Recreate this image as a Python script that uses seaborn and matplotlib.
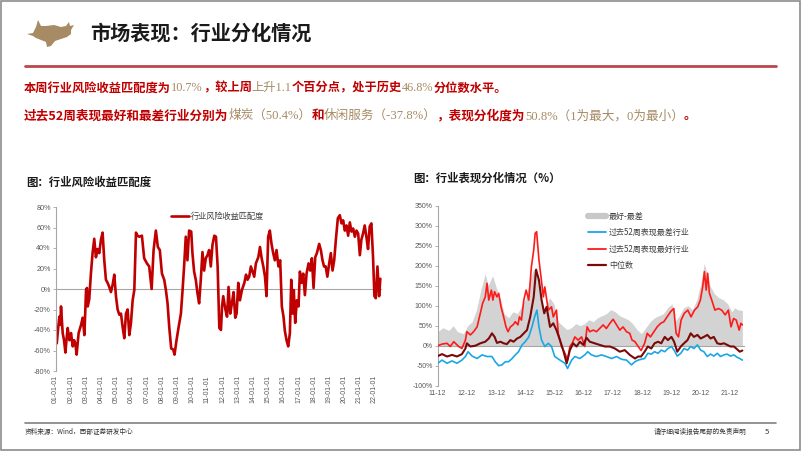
import numpy as np
import pandas as pd
import matplotlib
matplotlib.use("Agg")
import matplotlib.pyplot as plt
import seaborn as sns
from matplotlib.lines import Line2D
from matplotlib.patches import Polygon, Rectangle

# =========================================================
# DATA
# =========================================================
# left chart: industry risk/return match (%), x = decimal year
match_years = [
    2001.00, 2001.07, 2001.15, 2001.24, 2001.31, 2001.35, 2001.46, 2001.55, 2001.64, 2001.72,
    2001.79, 2001.90, 2002.01, 2002.12, 2002.21, 2002.29, 2002.38, 2002.51, 2002.67, 2002.78,
    2002.89, 2003.00, 2003.06, 2003.11, 2003.21, 2003.32, 2003.43, 2003.54, 2003.65, 2003.76,
    2003.87, 2003.98, 2004.09, 2004.20, 2004.31, 2004.42, 2004.53, 2004.64, 2004.75, 2004.86,
    2004.97, 2005.08, 2005.19, 2005.30, 2005.41, 2005.52, 2005.63, 2005.74, 2005.85, 2005.96,
    2006.07, 2006.18, 2006.29, 2006.39, 2006.50, 2006.68, 2006.83, 2007.01, 2007.16, 2007.32,
    2007.45, 2007.60, 2007.73, 2007.86, 2008.00, 2008.15, 2008.26, 2008.37, 2008.48, 2008.61,
    2008.74, 2008.83, 2008.96, 2009.09, 2009.25, 2009.36, 2009.46, 2009.57, 2009.68, 2009.79,
    2009.93, 2010.01, 2010.12, 2010.23, 2010.34, 2010.45, 2010.56, 2010.67, 2010.78, 2010.89,
    2011.00, 2011.11, 2011.22, 2011.33, 2011.45, 2011.56, 2011.67, 2011.78, 2011.89, 2011.96,
    2012.04, 2012.18, 2012.29, 2012.39, 2012.50, 2012.61, 2012.72, 2012.83, 2012.92, 2013.03,
    2013.14, 2013.27, 2013.43, 2013.54, 2013.64, 2013.75, 2013.86, 2013.97, 2014.08, 2014.19,
    2014.35, 2014.46, 2014.57, 2014.68, 2014.79, 2014.89, 2015.00, 2015.11, 2015.22, 2015.33,
    2015.44, 2015.55, 2015.68, 2015.79, 2015.90, 2016.01, 2016.10, 2016.21, 2016.32, 2016.43,
    2016.52, 2016.61, 2016.69, 2016.78, 2016.89, 2017.00, 2017.09, 2017.20, 2017.31, 2017.42,
    2017.53, 2017.66, 2017.77, 2017.88, 2017.99, 2018.10, 2018.21, 2018.36, 2018.47, 2018.58,
    2018.68, 2018.79, 2018.90, 2019.02, 2019.13, 2019.24, 2019.35, 2019.46, 2019.59, 2019.72,
    2019.83, 2019.94, 2020.05, 2020.16, 2020.27, 2020.38, 2020.49, 2020.60, 2020.71, 2020.82,
    2020.93, 2021.04, 2021.14, 2021.25, 2021.36, 2021.47, 2021.58, 2021.69, 2021.80, 2021.91,
    2022.00, 2022.09, 2022.20, 2022.31, 2022.39,
]
match_values = [
    -47, -53, -40, -27, -35, -17, -43, -50, -62, -48,
    -38, -50, -43, -56, -50, -53, -64, -43, -35, -28,
    -45, -1, 1, -17, -10, 15, 35, 49, 31, 39,
    35, 48, 55, 28, 9, 6, 2, -3, 4, 14,
    -7, -20, -25, -24, -37, -48, -24, -20, -45, -33,
    -11, -1, 55, 52, 51, 52, 30, 25, 22, 0,
    38, 57, 41, 38, 15, 9, -1, -14, -37, -58,
    -59, -64, -50, -38, -24, -1, 22, 51, 28, 57,
    56, 35, 17, 9, -4, -14, 9, 36, 18, 30,
    33, 38, 22, 43, 52, 51, 22, -38, -40, -17,
    -7, -20, -27, 2, -24, -14, -3, -28, -24, 6,
    -11, -1, 6, 14, 9, 12, 22, 17, 12, 25,
    31, 41, 30, 22, 12, -7, 51, 57, 44, 35,
    28, 38, 22, 28, -17, -27, -41, -50, -56, -43,
    9, -24, -1, -33, -11, -17, 17, 6, 15, -6,
    15, 25, 18, 30, 1, 31, 35, 44, 38, 28,
    22, 22, 12, 25, 35, 18, 28, 48, 69, 72,
    64, 67, 57, 62, 52, 65, 56, 59, 51, 57,
    54, 33, 48, 54, 62, 51, 39, 61, 64, 31,
    -7, -9, 22, -7, 10,
]
match_year_ticks = list(range(2001, 2023))

# right chart: past-52-week performance (%)
best_years = [
    2011.92, 2012.07, 2012.24, 2012.35, 2012.47, 2012.64, 2012.75, 2012.87, 2012.92, 2013.04,
    2013.15, 2013.27, 2013.38, 2013.46, 2013.55, 2013.61, 2013.67, 2013.76, 2013.81, 2013.87,
    2013.95, 2014.01, 2014.09, 2014.18, 2014.26, 2014.33, 2014.41, 2014.50, 2014.58, 2014.67,
    2014.72, 2014.79, 2014.87, 2014.95, 2015.04, 2015.13, 2015.21, 2015.26, 2015.31, 2015.39,
    2015.46, 2015.54, 2015.59, 2015.71, 2015.82, 2015.88, 2015.99, 2016.05, 2016.16, 2016.28,
    2016.37, 2016.45, 2016.53, 2016.62, 2016.73, 2016.85, 2016.96, 2017.04, 2017.13, 2017.25,
    2017.36, 2017.47, 2017.59, 2017.70, 2017.82, 2017.93, 2018.05, 2018.16, 2018.27, 2018.39,
    2018.50, 2018.58, 2018.68, 2018.79, 2018.89, 2019.01, 2019.10, 2019.21, 2019.33, 2019.44,
    2019.56, 2019.67, 2019.78, 2019.90, 2020.01, 2020.09, 2020.17, 2020.26, 2020.37, 2020.49,
    2020.60, 2020.72, 2020.83, 2020.92, 2021.00, 2021.06, 2021.12, 2021.17, 2021.23, 2021.31,
    2021.42, 2021.54, 2021.65, 2021.77, 2021.88, 2021.97, 2022.06, 2022.15, 2022.25, 2022.31,
    2022.36,
]
best_values = [
    0, 4, 6, -2, 10, -2, -7, 14, 35, 27,
    35, 47, 81, 106, 122, 156, 114, 139, 114, 135,
    122, 131, 97, 72, 47, 35, 47, 52, 60, 52,
    72, 64, 114, 139, 114, 197, 239, 281, 285, 214,
    172, 122, 147, 89, 97, 72, 89, 31, -2, -19,
    -36, -2, 6, 22, 14, 22, -2, 47, 35, 39,
    35, 43, 52, 43, 56, 66, 52, 39, 47, 35,
    31, 14, 10, -2, -12, 6, 31, 22, 35, 47,
    56, 60, 72, 85, 93, 31, 22, 64, 81, 89,
    72, 89, 97, 114, 147, 185, 139, 181, 131, 114,
    89, 93, 89, 77, 89, 47, 68, 64, 39, 56,
    52,
]

worst_years = [
    2011.92, 2012.07, 2012.24, 2012.41, 2012.58, 2012.75, 2012.87, 2012.96, 2013.10, 2013.27,
    2013.44, 2013.61, 2013.78, 2013.89, 2014.01, 2014.12, 2014.24, 2014.35, 2014.47, 2014.58,
    2014.69, 2014.81, 2014.92, 2015.04, 2015.15, 2015.24, 2015.32, 2015.39, 2015.48, 2015.59,
    2015.71, 2015.82, 2015.93, 2016.11, 2016.28, 2016.37, 2016.51, 2016.62, 2016.79, 2016.96,
    2017.06, 2017.19, 2017.36, 2017.53, 2017.70, 2017.88, 2018.05, 2018.22, 2018.39, 2018.56,
    2018.68, 2018.79, 2018.89, 2019.01, 2019.12, 2019.24, 2019.35, 2019.47, 2019.58, 2019.70,
    2019.81, 2019.93, 2020.02, 2020.13, 2020.25, 2020.36, 2020.48, 2020.59, 2020.70, 2020.82,
    2020.93, 2021.04, 2021.16, 2021.27, 2021.38, 2021.50, 2021.61, 2021.73, 2021.84, 2021.95,
    2022.07, 2022.18, 2022.27, 2022.36,
]
worst_values = [
    -44, -36, -44, -38, -44, -36, -27, -15, -26, -32,
    -23, -27, -27, -40, -50, -48, -40, -40, -32, -23,
    -15, 2, 10, 22, 47, 72, 89, 47, 14, -2,
    6, -2, -27, -36, -44, -57, -36, -27, -32, -23,
    -15, -23, -27, -23, -27, -32, -27, -34, -36, -48,
    -40, -36, -34, -32, -19, -21, -15, -19, -11, -15,
    -7, -2, -11, -26, -19, -7, -11, -2, -7, 2,
    -11, -15, -27, -21, -26, -19, -27, -23, -21, -26,
    -23, -29, -32, -36,
]

median_years = [
    2011.92, 2012.07, 2012.24, 2012.41, 2012.58, 2012.75, 2012.87, 2012.92, 2013.04, 2013.21,
    2013.38, 2013.55, 2013.67, 2013.78, 2013.87, 2013.95, 2014.07, 2014.18, 2014.29, 2014.41,
    2014.52, 2014.64, 2014.75, 2014.87, 2014.98, 2015.09, 2015.21, 2015.29, 2015.39, 2015.48,
    2015.57, 2015.65, 2015.77, 2015.88, 2015.99, 2016.11, 2016.22, 2016.34, 2016.45, 2016.56,
    2016.68, 2016.79, 2016.91, 2017.02, 2017.13, 2017.30, 2017.47, 2017.65, 2017.82, 2017.99,
    2018.16, 2018.33, 2018.50, 2018.68, 2018.79, 2018.89, 2019.01, 2019.12, 2019.24, 2019.35,
    2019.47, 2019.58, 2019.70, 2019.81, 2019.93, 2020.02, 2020.13, 2020.25, 2020.36, 2020.48,
    2020.59, 2020.70, 2020.82, 2020.93, 2021.04, 2021.16, 2021.27, 2021.38, 2021.50, 2021.61,
    2021.73, 2021.84, 2021.95, 2022.07, 2022.18, 2022.27, 2022.36,
]
median_values = [
    -26, -21, -27, -23, -27, -21, -7, 6, -2, 0,
    6, 10, 18, 31, 22, 7, 10, 6, 4, 14,
    10, 18, 22, 31, 39, 72, 122, 190, 164, 114,
    81, 97, 47, 56, 39, 14, -11, -44, -11, 6,
    -2, 10, 2, 20, 10, 6, 2, -2, -2, -7,
    -15, -11, -23, -32, -27, -27, -15, -2, -7, 6,
    10, 6, 22, 14, 22, 10, -15, -2, 6, 14,
    31, 22, 27, 18, 22, 27, 18, 22, 6, 4,
    6, 2, -2, -2, -9, -15, -12,
]

spread_years = [
    2011.92, 2012.10, 2012.30, 2012.45, 2012.60, 2012.80, 2012.95, 2013.10, 2013.25, 2013.40,
    2013.55, 2013.65, 2013.80, 2013.95, 2014.10, 2014.20, 2014.35, 2014.50, 2014.65, 2014.80,
    2014.95, 2015.10, 2015.20, 2015.31, 2015.40, 2015.50, 2015.60, 2015.75, 2015.90, 2016.05,
    2016.20, 2016.35, 2016.50, 2016.65, 2016.80, 2016.95, 2017.10, 2017.25, 2017.40, 2017.55,
    2017.70, 2017.85, 2018.00, 2018.15, 2018.30, 2018.45, 2018.60, 2018.75, 2018.90, 2019.05,
    2019.20, 2019.35, 2019.50, 2019.65, 2019.80, 2019.95, 2020.05, 2020.20, 2020.35, 2020.50,
    2020.65, 2020.80, 2020.95, 2021.05, 2021.15, 2021.25, 2021.40, 2021.55, 2021.70, 2021.85,
    2022.00, 2022.10, 2022.20, 2022.36,
]
spread_values = [
    35, 45, 38, 50, 35, 30, 50, 60, 90, 140,
    180, 150, 175, 140, 110, 80, 70, 85, 80, 100,
    120, 170, 190, 195, 150, 100, 90, 120, 105, 60,
    50, 40, 45, 55, 50, 55, 65, 60, 70, 75,
    80, 90, 85, 75, 70, 65, 55, 40, 30, 45,
    60, 70, 75, 80, 95, 105, 60, 75, 95, 100,
    90, 115, 160, 205, 180, 150, 130, 120, 115, 105,
    85, 95, 90, 88,
]
perf_year_ticks = list(range(2011, 2022))

legend_labels = ["最好-最差", "过去52周表现最差行业", "过去52周表现最好行业", "中位数"]

# =========================================================
# STYLE
# =========================================================
sns.set_theme(style="white")
plt.rcParams["font.family"] = ["Noto Sans CJK SC", "DejaVu Sans"]
plt.rcParams["axes.unicode_minus"] = False

RED_TXT = "#C00000"
TAN = "#A68B64"
TICK_FONT = ["Liberation Sans", "Noto Sans CJK SC"]

W, H = 802, 451
fig = plt.figure(figsize=(W / 100, H / 100), dpi=100)
fig.patch.set_facecolor("white")


def fx(px):
    return px / W


def fy(py):
    return 1 - py / H


# slide frame
fig.patches.append(Rectangle((0.001, 0.002), 0.997, 0.996, transform=fig.transFigure,
                             fill=False, edgecolor="#8C8C8C", linewidth=1.2))

# little bull logo
bull_px = [(27, 34), (33, 33), (36, 27), (38, 20), (41, 26), (46, 26), (54, 25), (61, 27),
           (66, 26), (69, 22), (70, 26), (74, 25), (71, 30), (71, 34), (67, 37), (61, 39),
           (55, 41), (51, 46), (47, 47), (46, 42), (41, 40), (36, 38), (33, 36)]
fig.patches.append(Polygon([(fx(a), fy(b)) for a, b in bull_px], closed=True,
                           transform=fig.transFigure, facecolor="#A68B64", edgecolor="none"))

fig.text(fx(90), fy(33), "市场表现：行业分化情况", fontsize=14.5, fontweight="bold",
         color="#1A1A1A", va="center", ha="left")

fig.add_artist(Line2D([fx(25), fx(776)], [fy(66), fy(66)], transform=fig.transFigure,
                      color="#B8474E", linewidth=2))

renderer = fig.canvas.get_renderer()


def rich_line(x_px, y_px, parts, size):
    x = fx(x_px)
    for s, kind in parts:
        if kind == "r":
            t = fig.text(x, fy(y_px), s, fontsize=size, color=RED_TXT, fontweight="bold",
                         va="center", ha="left")
        else:
            t = fig.text(x, fy(y_px), s, fontsize=size, color=TAN, va="center", ha="left",
                         family=["Liberation Serif", "Noto Sans CJK SC"])
        x += t.get_window_extent(renderer).width / fig.bbox.width


rich_line(24, 88, [("本周行业风险收益匹配度为", "r"), ("10.7%", "t"), ("，较上周", "r"),
                   ("上升1.1", "t"), ("个百分点，处于历史", "r"), ("46.8%", "t"),
                   ("分位数水平。", "r")], 8.8)
rich_line(24, 116, [("过去52周表现最好和最差行业分别为", "r"), ("煤炭（50.4%）", "t"),
                    ("和", "r"), ("休闲服务（-37.8%）", "t"), ("，表现分化度为", "r"),
                    ("50.8%（1为最大，0为最小）", "t"), ("。", "r")], 9.1)

fig.text(fx(26), fy(182), "图：行业风险收益匹配度", fontsize=8.2, fontweight="bold",
         color="#1A1A1A", va="center")
fig.text(fx(413), fy(178), "图：行业表现分化情况（%）", fontsize=8.2, fontweight="bold",
         color="#1A1A1A", va="center")

# footer
fig.add_artist(Line2D([fx(25), fx(776)], [fy(423), fy(423)], transform=fig.transFigure,
                      color="#808080", linewidth=1.2))
fig.text(fx(25), fy(432), "资料来源：Wind，西部证券研发中心", fontsize=4.8, color="#333333",
         va="center")
fig.text(fx(746), fy(432), "请仔细阅读报告尾部的免责声明", fontsize=4.8, color="#333333",
         va="center", ha="right")
fig.text(fx(767), fy(432), "5", fontsize=5.5, color="#333333", va="center", ha="center")

# =========================================================
# LEFT CHART
# =========================================================
ax1 = fig.add_axes([fx(55.7), fy(371), fx(382) - fx(55.7), fy(207) - fy(371)])
df_match = pd.DataFrame({"year": match_years, "value": match_values})
sns.lineplot(data=df_match, x="year", y="value", ax=ax1, color="#C00000", linewidth=1.9,
             label="行业风险收益匹配度")
ax1.axhline(0, color="#A6A6A6", linewidth=0.8, zorder=0)
ax1.set_xlim(2001, 2022.5)
ax1.set_ylim(-80, 80)
ax1.set_yticks(range(-80, 81, 20))
ax1.set_yticklabels([f"{v}%" for v in range(-80, 81, 20)], fontsize=5.2, color="#595959",
                    family=TICK_FONT)
ax1.set_xticks(match_year_ticks)
ax1.set_xticklabels([f"{y % 100:02d}-01-01" for y in match_year_ticks], rotation=90,
                    fontsize=5, color="#595959", family=TICK_FONT)
ax1.tick_params(axis="y", length=2, width=0.6, color="#A6A6A6", pad=1.5, left=True)
ax1.tick_params(axis="x", length=0, pad=3)
for side in ["top", "right", "bottom"]:
    ax1.spines[side].set_visible(False)
ax1.spines["left"].set_color("#A6A6A6")
ax1.spines["left"].set_linewidth(0.8)
ax1.set_xlabel("")
ax1.set_ylabel("")
ax1.set_facecolor("none")
ax1.legend(loc="center left", bbox_to_anchor=(0.33, 0.94), frameon=False, fontsize=5.9,
           handlelength=2.2, handletextpad=0.2, labelcolor="#404040")

# =========================================================
# RIGHT CHART
# =========================================================
ax2 = fig.add_axes([fx(437.7), fy(385.7), fx(745) - fx(437.7), fy(205.7) - fy(385.7)])
ax2.fill_between(spread_years, 0, spread_values, color="#D3D3D3", linewidth=0, zorder=1)
df_worst = pd.DataFrame({"year": worst_years, "value": worst_values})
df_best = pd.DataFrame({"year": best_years, "value": best_values})
df_median = pd.DataFrame({"year": median_years, "value": median_values})
ax2.axhline(0, color="#A6A6A6", linewidth=0.8, zorder=2)
sns.lineplot(data=df_worst, x="year", y="value", ax=ax2, color="#1AA7E6", linewidth=1.2,
             zorder=3)
sns.lineplot(data=df_best, x="year", y="value", ax=ax2, color="#FF1A1A", linewidth=1.2,
             zorder=4)
sns.lineplot(data=df_median, x="year", y="value", ax=ax2, color="#7A0A0A", linewidth=1.5,
             zorder=5)
ax2.set_xlim(2011.92, 2022.45)
ax2.set_ylim(-100, 350)
ax2.set_yticks(range(-100, 351, 50))
ax2.set_yticklabels([f"{v}%" for v in range(-100, 351, 50)], fontsize=5, color="#595959",
                    family=TICK_FONT)
tick_pos = [y + 0.92 for y in perf_year_ticks]
ax2.set_xticks(tick_pos)
ax2.set_xticklabels([f"{y % 100:02d}-12" for y in perf_year_ticks], fontsize=5,
                    color="#595959", family=TICK_FONT)
ax2.tick_params(axis="y", length=2, width=0.6, color="#A6A6A6", pad=1.5, left=True)
ax2.tick_params(axis="x", length=0, pad=3)
for side in ["top", "right", "bottom"]:
    ax2.spines[side].set_visible(False)
ax2.spines["left"].set_color("#A6A6A6")
ax2.spines["left"].set_linewidth(0.8)
ax2.set_xlabel("")
ax2.set_ylabel("")
ax2.set_facecolor("none")

handles = [
    Line2D([], [], color="#C8C8C8", linewidth=4.5),
    Line2D([], [], color="#1AA7E6", linewidth=1.3),
    Line2D([], [], color="#FF1A1A", linewidth=1.3),
    Line2D([], [], color="#7A0A0A", linewidth=1.6),
]
ax2.legend(handles, legend_labels, loc="upper left", bbox_to_anchor=(0.465, 1.008),
           frameon=False, fontsize=5.8, handlelength=2.3, handletextpad=0.3,
           labelspacing=0.92, labelcolor="#404040")

fig.savefig("out.png", dpi=100)
